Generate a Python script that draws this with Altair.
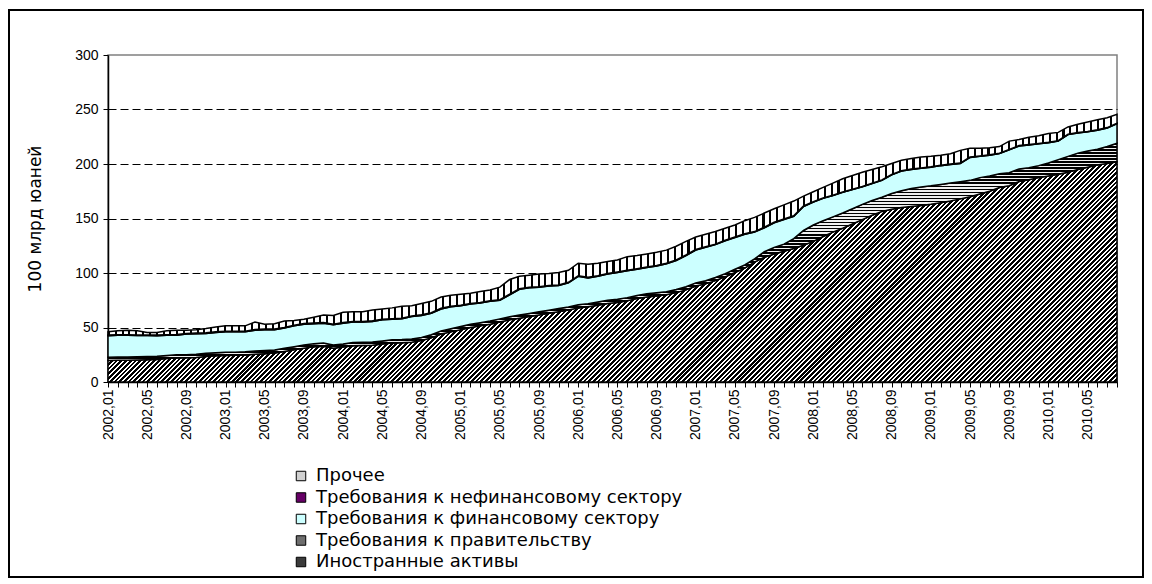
import altair as alt
import pandas as pd

# ---------------- data (100 млрд юаней, monthly 2002,01 .. 2010,08) ----------------
months = [f"{y},{m:02d}" for y in range(2002, 2011) for m in range(1, 13)][:104]

foreign_assets = [
    19.8, 19.9, 20.0, 20.2, 20.4, 20.6, 21.5, 22.0, 22.2, 22.5, 23.5, 24.0,
    24.3, 24.5, 24.8, 25.5, 26.0, 26.5, 28.0, 29.5, 31.0, 32.3, 32.8, 31.0,
    32.0, 33.3, 33.6, 33.8, 34.8, 35.8, 36.0, 36.5, 38.0, 40.5, 44.0, 46.0,
    48.0, 50.0, 51.5, 53.0, 55.0, 57.0, 58.5, 60.0, 61.5, 63.0, 64.5, 66.0,
    68.0, 69.0, 70.5, 72.0, 73.0, 74.5, 76.5, 78.0, 79.0, 80.0, 82.0, 84.5,
    88.0, 90.0, 93.0, 96.5, 100.5, 104.5, 110.0, 114.5, 117.5, 120.0, 122.5, 125.5,
    129.0, 133.5, 137.5, 141.0, 145.0, 149.0, 153.0, 156.5, 158.5, 160.0, 161.0, 162.0,
    163.0, 164.5, 166.0, 168.0, 170.0, 172.5, 175.0, 178.5, 180.0, 184.0, 185.5, 187.5,
    189.0, 190.5, 192.5, 195.0, 197.0, 199.0, 200.5, 202.0,
]

gov_claims = [
    3.0, 3.0, 3.0, 3.0, 3.0, 3.0, 2.9, 2.9, 2.9, 2.9, 2.9, 2.9,
    2.9, 2.9, 2.9, 2.9, 2.9, 2.9, 2.9, 2.9, 2.9, 2.9, 2.9, 2.9,
    2.9, 2.9, 2.9, 2.9, 2.9, 2.9, 2.9, 2.9, 2.9, 2.9, 2.9, 2.9,
    2.9, 2.9, 2.9, 2.9, 2.9, 2.9, 2.9, 2.9, 2.9, 2.9, 2.9, 2.9,
    2.9, 2.9, 2.9, 2.9, 2.9, 2.9, 2.9, 2.9, 2.9, 2.9, 2.9, 2.9,
    2.9, 2.9, 2.9, 2.9, 2.9, 2.9, 3.0, 5.0, 6.0, 6.5, 9.0, 13.5,
    15.0, 14.5, 14.0, 14.0, 14.0, 14.0, 13.5, 13.0, 14.5, 15.5, 16.5, 17.0,
    17.0, 16.8, 16.5, 15.8, 15.0, 15.0, 14.0, 12.5, 12.0, 11.5, 11.0, 11.0,
    12.0, 13.5, 14.5, 15.0, 15.0, 14.5, 15.5, 17.0,
]

fin_claims = [
    19.7, 19.9, 19.8, 19.4, 19.2, 18.9, 18.4, 18.1, 18.9, 18.9, 18.1, 18.6,
    18.8, 18.6, 18.3, 19.1, 19.1, 18.6, 18.6, 19.1, 19.1, 18.3, 18.3, 18.6,
    19.1, 18.8, 18.5, 18.8, 19.3, 18.8, 19.1, 20.6, 20.1, 19.6, 20.1, 20.1,
    19.1, 18.6, 18.1, 18.1, 17.1, 20.1, 23.6, 23.6, 22.6, 22.1, 21.1, 22.1,
    26.1, 23.6, 23.6, 24.1, 24.6, 24.6, 24.1, 24.1, 24.6, 25.6, 26.6, 28.6,
    30.1, 30.6, 30.1, 30.1, 29.1, 28.1, 24.5, 22.0, 22.5, 22.5, 20.5, 22.0,
    21.0, 20.5, 19.5, 19.0, 17.5, 16.0, 15.5, 15.5, 17.0, 18.0, 17.5, 17.0,
    17.0, 17.2, 17.0, 16.7, 21.0, 19.5, 19.0, 18.5, 21.0, 21.0, 21.0, 20.0,
    18.5, 17.0, 20.0, 18.5, 17.5, 17.5, 17.0, 18.0,
]

nonfin_claims = [
    0.6, 0.6, 0.6, 0.6, 0.6, 0.6, 0.6, 0.6, 0.6, 0.6, 0.6, 0.6,
    0.6, 0.6, 0.6, 0.6, 0.6, 0.6, 0.6, 0.6, 0.6, 0.6, 0.6, 0.6,
    0.6, 0.6, 0.6, 0.6, 0.6, 0.6, 0.6, 0.6, 0.6, 0.6, 0.6, 0.6,
    0.5, 0.5, 0.5, 0.5, 0.5, 0.5, 0.5, 0.5, 0.5, 0.5, 0.5, 0.5,
    0.5, 0.5, 0.5, 0.5, 0.5, 0.5, 0.5, 0.5, 0.5, 0.5, 0.5, 0.5,
    0.5, 0.5, 0.5, 0.5, 0.5, 0.5, 0.5, 0.5, 0.5, 0.5, 0.5, 0.5,
    0.4, 0.4, 0.4, 0.4, 0.4, 0.4, 0.4, 0.4, 0.4, 0.4, 0.4, 0.4,
    0.4, 0.4, 0.4, 0.4, 0.4, 0.4, 0.4, 0.4, 0.4, 0.4, 0.4, 0.4,
    0.4, 0.4, 0.4, 0.4, 0.4, 0.4, 0.4, 0.4,
]

other = [
    2.9, 3.6, 4.1, 3.8, 2.3, 2.4, 3.6, 3.9, 2.9, 3.1, 3.9, 4.4,
    4.9, 4.9, 4.9, 6.9, 4.4, 4.9, 5.9, 4.4, 3.9, 5.4, 6.9, 7.9,
    9.4, 8.9, 8.9, 9.9, 9.4, 9.9, 10.9, 9.4, 10.4, 10.4, 10.4, 9.9,
    10.0, 9.5, 10.0, 10.0, 11.5, 13.5, 11.5, 11.0, 11.5, 11.0, 11.5, 11.0,
    11.5, 12.0, 11.5, 11.0, 11.0, 12.5, 12.0, 12.0, 12.0, 12.0, 12.5, 12.5,
    11.5, 11.5, 11.5, 11.0, 11.0, 12.0, 13.0, 13.0, 12.5, 13.0, 13.5, 9.0,
    9.1, 9.6, 11.1, 12.1, 12.6, 13.1, 12.6, 12.1, 10.1, 9.6, 9.6, 10.1,
    9.6, 9.1, 9.6, 11.6, 8.1, 7.1, 6.6, 6.1, 7.6, 5.6, 6.6, 7.1,
    8.1, 7.6, 6.6, 7.6, 8.6, 9.1, 9.1, 8.1,
]

series_names = [
    "Иностранные активы",
    "Требования к правительству",
    "Требования к финансовому сектору",
    "Требования к нефинансовому сектору",
    "Прочее",
]
series_values = [foreign_assets, gov_claims, fin_claims, nonfin_claims, other]

legend_order = list(reversed(series_names))
legend_colors = ["#d0d0d0", "#660066", "#ccffff", "#6e6e6e", "#3a3a3a"]

rows = []
for k, (name, vals) in enumerate(zip(series_names, series_values)):
    for m, v in zip(months, vals):
        rows.append({"month": m, "series": name, "order": k, "value": v})
df = pd.DataFrame(rows)

# ---------------- geometry ----------------
W, H, YMAX = 1009, 327, 300
PX = H / YMAX


def stripes(n, dark_frac, dark, light, x2, y2):
    stops = []
    for k in range(n):
        a = round(k / n, 6)
        b = round((k + dark_frac) / n, 6)
        c = round((k + 1) / n, 6)
        stops += [
            {"color": dark, "offset": a},
            {"color": dark, "offset": b},
            {"color": light, "offset": b},
            {"color": light, "offset": c},
        ]
    return {"gradient": "linear", "x1": 0, "y1": 0, "x2": x2, "y2": y2, "stops": stops}


# diagonal "/" hatch for foreign assets (bbox: full width, 0..max)
h_fa = max(foreign_assets) * PX
s_fa = W + h_fa
fa_fill = stripes(round(s_fa / 4.7), 0.58, "#000000", "#ffffff",
                  W * s_fa / (W ** 2 + h_fa ** 2), h_fa * s_fa / (W ** 2 + h_fa ** 2))

# horizontal stripes for government claims
g_top = max(a + b for a, b in zip(foreign_assets, gov_claims))
h_g = (g_top - min(foreign_assets)) * PX
gov_fill = stripes(round(h_g / 3.0), 0.58, "#000000", "#f0f0f0", 0, 1)

# vertical stripes for "other"
oth_fill = stripes(round(W / 6.8), 0.3, "#000000", "#ffffff", 1, 0)

fills = [fa_fill, gov_fill, "#ccffff", "#660066", oth_fill]

# ---------------- axes ----------------
x_axis = alt.Axis(
    title=None, labelAngle=270, labelAlign="right", labelBaseline="middle",
    labelFont="Liberation Sans", labelFontSize=14, labelColor="black",
    labelPadding=2, labelOverlap=False, labelFlush=False,
    labelExpr="indexof(['01','05','09'], slice(datum.value, 5)) >= 0 ? datum.value : ''",
    tickColor="black", tickSize=5, tickWidth=1,
    domainColor="black", domainWidth=1.5, grid=False,
)
y_axis = alt.Axis(
    values=[0, 50, 100, 150, 200, 250, 300],
    labelFont="Liberation Sans", labelFontSize=14, labelColor="black", labelPadding=5,
    tickColor="black", tickSize=5, tickWidth=1,
    domainColor="black", domainWidth=1.5,
    grid=True, gridColor="black", gridDash=[8, 4], gridWidth=1,
    gridOpacity={"condition": {"test": "datum.value == 0 || datum.value == 300", "value": 0}, "value": 1},
    title="100 млрд юаней", titleFont="DejaVu Sans", titleFontSize=17,
    titleFontWeight="normal", titleColor="black",
    titleX=-73, titleY=163.5, titleAngle=270, titleAlign="center", titleBaseline="middle",
)

x_enc = alt.X("month:O", scale=alt.Scale(type="point", padding=0), axis=x_axis)
y_enc = alt.Y("y1:Q", scale=alt.Scale(domain=[0, YMAX], nice=False), axis=y_axis)

base = alt.Chart(df).transform_stack(
    stack="value", groupby=["month"], as_=["y0", "y1"],
    sort=[alt.SortField("order", order="ascending")],
)

layers = []
for name, fill in zip(series_names, fills):
    layers.append(
        base.transform_filter(alt.FieldEqualPredicate(field="series", equal=name))
        .mark_area(fill=fill, stroke="black", strokeWidth=1.5, opacity=1)
        .encode(x=x_enc, y=y_enc, y2="y0:Q")
    )

legend_layer = (
    alt.Chart(pd.DataFrame({"series": legend_order}))
    .transform_filter("false")
    .mark_square()
    .encode(
        color=alt.Color(
            "series:N",
            scale=alt.Scale(domain=legend_order, range=legend_colors),
            legend=alt.Legend(
                title=None, orient="none", legendX=184, legendY=412,
                symbolType="square", symbolSize=90,
                symbolStrokeColor="black", symbolStrokeWidth=1, symbolOpacity=1,
                labelFont="DejaVu Sans", labelFontSize=18, labelColor="black",
                labelOffset=6, rowPadding=3.5, padding=0, labelLimit=0,
            ),
        )
    )
)

frame = (
    alt.Chart(pd.DataFrame({"k": [0]}))
    .mark_rect(fill="transparent", stroke="black", strokeWidth=2)
    .encode(x=alt.value(-99), x2=alt.value(1035), y=alt.value(-45), y2=alt.value(522))
)

chart = (
    alt.layer(frame, *layers, legend_layer)
    .properties(
        width=W, height=H,
        autosize=alt.AutoSizeParams(type="none"),
        padding={"left": 100, "top": 47, "right": 27, "bottom": 196},
        background="white",
    )
    .configure_view(stroke="#808080", strokeWidth=1.5)
)

chart.save("out.html", embed_options={"renderer": "svg", "actions": False})
